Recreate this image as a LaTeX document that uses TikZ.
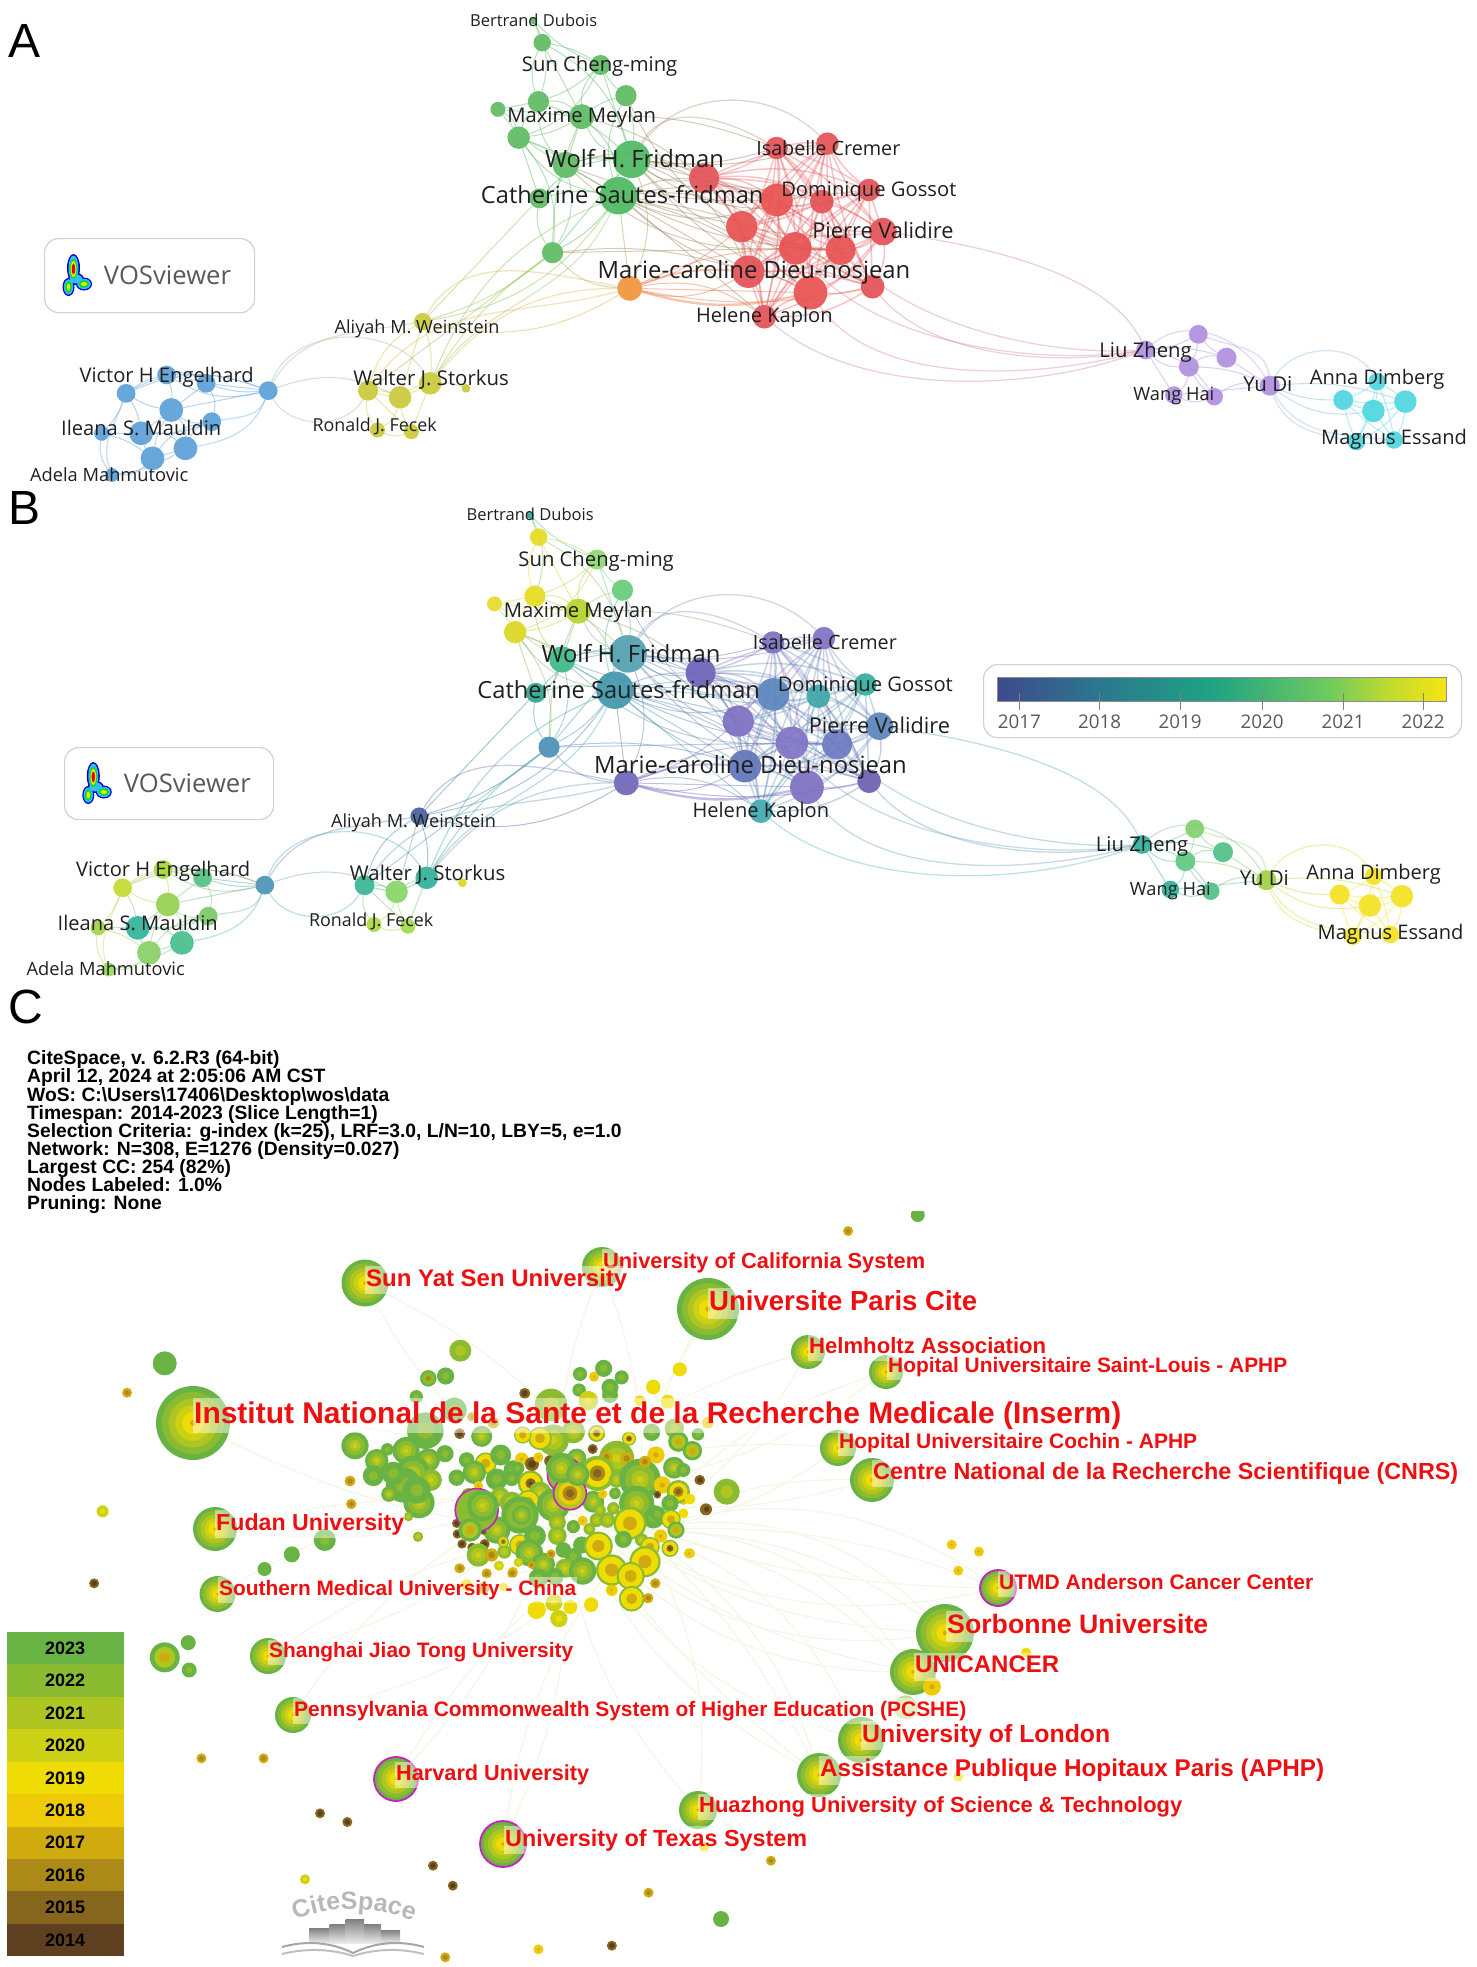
\documentclass[tikz,border=0pt]{standalone}
\usepackage{graphicx}
\usepackage{fontspec}
\setmainfont{Open Sans}
\newfontfamily\arialf{Liberation Sans}
\usetikzlibrary{decorations.text,backgrounds}
\pgfdeclarelayer{bgedges}
\pgfsetlayers{bgedges,main}
\definecolor{vb1}{HTML}{3E4A8C}\definecolor{vb2}{HTML}{2A7A8E}\definecolor{vb3}{HTML}{1FA384}
\definecolor{vb4}{HTML}{6FCB5E}\definecolor{vb5}{HTML}{C4DC2C}\definecolor{vb6}{HTML}{F5E512}
\pgfdeclarehorizontalshading{viridisbar}{100bp}{
 color(0bp)=(vb1); color(25bp)=(vb1); color(37bp)=(vb2); color(49bp)=(vb3); color(62bp)=(vb4); color(69bp)=(vb5); color(75bp)=(vb6); color(100bp)=(vb6)}
\definecolor{c23}{HTML}{69B344}\definecolor{c22}{HTML}{8ABB30}\definecolor{c21}{HTML}{AEC522}
\definecolor{c20}{HTML}{CDD115}\definecolor{c19}{HTML}{EFDC05}\definecolor{c18}{HTML}{EFCB07}
\definecolor{c17}{HTML}{CFAB10}\definecolor{c16}{HTML}{AB8A18}\definecolor{c15}{HTML}{86661C}
\definecolor{c14}{HTML}{5E3F20}
\definecolor{maj}{HTML}{C81FC0}
\definecolor{lab}{HTML}{EE1010}
\definecolor{palee}{HTML}{F4F6E6}

% name / zoom x / zoom y / radius / colour in A / colour in B
\newcommand{\netdata}{
G0/567/62/3/5DBB63/2DA58E, G1/576/128/7/5DBB63/E8DA20, G2/638/195/8/5DBB63/8FD870, G3/665/287/8.5/5DBB63/66CC77,
G4/572/305/8.5/5DBB63/E8DA20, G5/529/328/6/5DBB63/E6DA2A, G6/618/350/10/5DBB63/B5D32A, G7/551/413/9/5DBB63/DBD622,
G8/671/478/15/4DB860/4F9FB0, G9/601/495/10.5/5DBB63/3DB98A, G10/657/587/15/4DB860/3F97AA, G11/573/595/8/5DBB63/2DA58E,
G12/587/758/8.5/5DBB63/4A8FB5,
R1/825/444/9/E25055/7B6FC0, R2/879/431/9/E25055/8070C5, R3/748/535/12/E25055/6B62B5, R4/923/570/9/E25055/2FAE9F,
R5/825/600/13/E85050/5A84BD, R6/873/605/9.5/E25055/3EA5A8, R7/788/680/12.5/E85050/7D6FC0, R8/938/695/11/E25055/5A82BA,
R9/845/745/13/E85050/8074C5, R10/893/750/12/E85050/6A78C0, R11/795/815/13/E25055/5F74B8, R12/861/878/13.5/E85050/7C6EC0,
R13/927/860/9.5/E25055/6A60B0, R14/812/950/9.5/E25055/3FA8AE, O1/669/865/10/F0943A/6F66B8,
Y1/449/965/7/C9C93A/46609F, Y2/457/1150/9/C9C93A/2FB095, Y3/391/1172/8/C9C93A/38B595, Y4/425/1192/9/C9C93A/88D468,
Y5/495/1165/3.5/C9C93A/DCD820, Y6/401/1290/6/C9C93A/A8D83E, Y7/437/1295/6/C9C93A/A0D84A,
B0/285/1172/7.5/5B9FD8/4B93B5, B1/177/1125/7.5/5B9FD8/A6D63C, B2/219/1150/7.5/5B9FD8/55C07F, B3/134/1180/7.5/5B9FD8/C4DA30,
B4/182/1230/9.5/5B9FD8/96D050, B5/225/1265/7.5/5B9FD8/79C96A, B6/150/1300/9.5/5B9FD8/2FB39A, B7/108/1300/6/5B9FD8/A4D344,
B8/197/1345/9.5/5B9FD8/45BF8C, B9/162/1375/9.5/5B9FD8/88CF64, B10/119/1425/5.5/5B9FD8/96D860,
P1/1217/1050/7.5/B08EE0/2FB09C, P2/1273/1003/7.5/B08EE0/80D070, P3/1303/1073/8/B08EE0/50C088, P4/1263/1100/8/B08EE0/60C880,
P5/1247/1185/7/B08EE0/30B096, P6/1290/1190/7/B08EE0/50C088, P7/1349/1157/8/B08EE0/A0CF40,
C1/1463/1145/7/4DD5E0/F3E11F, C2/1427/1200/8/4DD5E0/F3E11F, C3/1493/1205/9/4DD5E0/F3E11F, C4/1459/1233/9/4DD5E0/F3E11F,
C5/1441/1325/7/4DD5E0/F3E11F, C6/1481/1320/7/4DD5E0/F3E11F}

\newcommand{\labdata}{
567/60/135/Bertrand Dubois, 637/193/165/Sun Cheng-ming, 618/347/158/Maxime Meylan, 674/478/190/Wolf H. Fridman,
661/587/300/Catherine Sautes-fridman, 880/445/153/Isabelle Cremer, 923/570/186/Dominique Gossot, 938/693/150/Pierre Validire,
801/812/332/Marie-caroline Dieu-nosjean, 812/947/145/Helene Kaplon, 443/980/175/Aliyah M. Weinstein, 458/1135/165/Walter J. Storkus,
398/1275/132/Ronald J. Fecek, 177/1125/185/Victor H Engelhard, 150/1285/170/Ileana S. Mauldin, 116/1423/168/Adela Mahmutovic,
1217/1050/98/Liu Zheng, 1247/1183/86/Wang Hai, 1347/1152/52/Yu Di, 1463/1133/143/Anna Dimberg, 1481/1312/155/Magnus Essand}

\newcommand{\netedges}{
G0/G1,G0/G4,G0/G2,G1/G2,G1/G4,G1/G6,G1/G8,G2/G3,G2/G4,G2/G6,G2/G8,G2/G7,G3/G6,G3/G8,G3/G10,G4/G5,G4/G6,G4/G7,G4/G8,G4/G9,
G5/G6,G5/G7,G5/G9,G6/G7,G6/G8,G6/G9,G6/G10,G7/G8,G7/G9,G7/G10,G7/G11,G7/G12,G8/G9,G8/G10,G8/G11,G9/G10,G9/G11,G10/G11,G10/G12,G11/G12,G8/G12,G9/G12,G6/G12,
G10/R3,G10/R5,G10/R7,G10/R9,G10/R11,G10/R12,G8/R3,G8/R5,G8/R7,G8/R1,G6/R1,G3/R9,G10/R14,G9/R3,G8/R2,G12/R11,G12/O1,G10/O1,G8/O1,G10/R10,G10/R6,G8/R6,G12/R9,G8/R9,G9/R5,G6/R3,G9/R9,G9/R11,G8/R11,G8/R12,G10/R13,G8/R10,
G11/Y1,G10/Y1,G12/Y2,G12/Y1,G10/Y2,G12/Y3,O1/Y1,
O1/R7,O1/R9,O1/R11,O1/R12,O1/R14,O1/R13,
Y1/Y2,Y1/Y3,Y1/Y4,Y2/Y3,Y2/Y4,Y3/Y4,Y3/Y6,Y3/Y7,Y4/Y6,Y4/Y7,Y2/Y5,Y6/Y7,Y2/Y7,B0/Y4,
B0/B1,B0/B2,B0/B3,B0/B4,B1/B2,B1/B3,B1/B4,B2/B3,B2/B4,B2/B5,B3/B4,B3/B6,B4/B5,B4/B6,B4/B8,B4/B9,B5/B6,B5/B8,B6/B7,B6/B8,B6/B9,B7/B9,B7/B10,B8/B9,B9/B10,B10/B8,B3/B7,B5/B9,B0/B2,B0/B1,
P1/P2,P1/P3,P1/P4,P1/P5,P1/P6,P2/P3,P2/P4,P3/P4,P3/P7,P4/P5,P4/P6,P4/P7,P5/P6,P5/P7,P6/P7,
P7/C2,P7/C3,P7/C4}

\newcommand{\longedges}{
R8/P1/-8/115/.75, R13/P1/-50/190/.8, R12/P1/-55/195/.8, R14/P1/-40/200/.8, R10/P1/-45/183/.8, R9/P1/-50/188/.8,
G8/R1/60/150/1, G8/R2/55/135/1, Y1/O1/60/170/1, Y2/O1/50/180/1, Y3/O1/55/195/1, Y2/G10/55/245/1,
B0/Y2/70/120/1, B0/Y3/-60/-120/1, B0/Y1/60/190/1, P7/C5/-70/170/1, P7/C1/60/120/1, P7/C6/-60/175/1,
B3/B10/-110/110/1, B0/B5/-110/10/1, B0/B8/-110/10/1, P2/P7/-20/95/1, P1/P7/40/120/1}

\newcommand{\buildedges}[1]{%
 \begin{pgfonlayer}{bgedges}
 \foreach \ea/\eb [count=\i] in \netedges {%
  \pgfmathtruncatemacro\eg{mod(\i*7,5)*11-22}%
  \colorlet{ec}{#1\ea!50!#1\eb}%
  \draw[netedge,draw=ec,bend left=\eg] (#1\ea) to (#1\eb);}
 \foreach \ea [count=\i] in {R1,R2,R3,R4,R5,R6,R7,R8,R9,R10,R11,R12,R13,R14} {%
  \foreach \eb [count=\j] in {R1,R2,R3,R4,R5,R6,R7,R8,R9,R10,R11,R12,R13,R14} {%
   \ifnum\i<\j
    \pgfmathtruncatemacro\eg{mod(\i*3+\j*5,5)*8-16}%
    \colorlet{ec}{#1\ea!50!#1\eb}%
    \draw[netedge,line width=1.5pt,opacity=.34,draw=ec,bend left=\eg] (#1\ea) to (#1\eb);
   \fi}}
 \foreach \ea [count=\i] in {C1,C2,C3,C4,C5,C6} {%
  \foreach \eb [count=\j] in {C1,C2,C3,C4,C5,C6} {%
   \ifnum\i<\j
    \pgfmathtruncatemacro\eg{mod(\i*3+\j*5,5)*6-12}%
    \draw[netedge,draw=#1\ea,bend left=\eg] (#1\ea) to (#1\eb);
   \fi}}
 \foreach \ea/\eb/\ou/\inn/\lo in \longedges {%
  \colorlet{ec}{#1\ea!50!#1\eb}%
  \draw[netedge,draw=ec,line width=1.3pt,opacity=.33] (#1\ea) to[out=\ou,in=\inn,looseness=\lo] (#1\eb);
  }
 \colorlet{ec}{#1O1!60!#1R12}%
 \draw[netedge,draw=ec,line width=2.4pt,bend right=14] (#1O1) to (#1R12);
 \draw[netedge,draw=ec,line width=2pt,bend left=12] (#1O1) to (#1R11);
 \end{pgfonlayer}}

\newcommand{\netw}[3]{%
 \begin{scope}[shift={(#2,#3)},x=.9413pt,y=-.33333pt]
 \foreach \nm/\zx/\zy/\rad/\ca/\cb in \netdata {%
  \node[netnode,minimum size={2.5*\rad pt},fill=#1\nm] (#1\nm) at (\zx,\zy) {};}
 \foreach \zx/\zy/\w/\txt [count=\i] in \labdata {%
  \pgfmathsetmacro\wdp{\w*.9413}%
  \node[netlab] (#1L\i) at (\zx,\zy) {\resizebox{\wdp pt}{!}{\vphantom{Ag}\txt}};}
 \end{scope}
 \buildedges{#1}}

% VOSviewer badge
\newcommand{\vosbadge}[7]{% name, box x0,y0,x1,y1, text x, y
 \node[vosbox,minimum width={(#4-#2)*1pt},minimum height={(#5-#3)*1pt},anchor=north west] (#1box) at (#2,#3) {};
 \node[text=black!65] (#1txt) at (#6,#7) {\resizebox{127pt}{!}{VOSviewer}};
 \begin{scope}[shift={(#6-92.5,#7)}]
  \fill[blue!80!black] (-1.5,-7) ellipse (6.5 and 14);
  \fill[blue!80!black] (-6.5,12) ellipse (6 and 9);
  \fill[blue!80!black] (9,9) ellipse (8 and 6.5);
  \fill[blue!80!black] (1,4) ellipse (8 and 6);
  \fill[cyan!80!white] (-1.5,-7) ellipse (5 and 12.5);
  \fill[cyan!80!white] (-6.5,12) ellipse (4.7 and 7.6);
  \fill[cyan!80!white] (9,9) ellipse (6.8 and 5.2);
  \fill[cyan!80!white] (1,4) ellipse (6.5 and 4.5);
  \fill[green!75!teal] (-1.5,-6) ellipse (3.8 and 10);
  \fill[green!75!teal] (-6.5,12) ellipse (3.2 and 5.8);
  \fill[green!75!teal] (9,9) ellipse (5 and 3.8);
  \fill[yellow!90!green] (-1.5,-6) ellipse (2.8 and 8);
  \fill[yellow!90!green] (-6.5,12) ellipse (1.8 and 3.5);
  \fill[yellow!90!green] (9,9) ellipse (3.2 and 2);
  \fill[red!90!black] (-1.5,-6) ellipse (1.7 and 5.5);
 \end{scope}}

% concentric rings of the CiteSpace nodes
\newcommand{\rr}[2]{\fill[#1] (\qx,\qy) circle ({#2*\qr*\qk pt});}
\newcommand{\ringa}{\rr{c23}{1}\rr{c22}{.45}}
\newcommand{\ringb}{\rr{c23}{1}\rr{c22}{.72}\rr{c21}{.42}\rr{c20}{.18}}
\newcommand{\ringc}{\rr{c22}{1}\rr{c21}{.62}\rr{c20}{.25}}
\newcommand{\ringd}{\rr{c22}{1}\rr{c19}{.82}\rr{c15}{.4}\rr{c14}{.15}}
\newcommand{\ringu}{\rr{c22}{1}\rr{c19}{.85}\rr{c17}{.42}}
\newcommand{\ringe}{\rr{c17}{1}\rr{c16}{.5}}
\newcommand{\ringf}{\rr{c15}{1}\rr{c14}{.55}}
\newcommand{\ringg}{\rr{c22}{1}\rr{c19}{.78}\rr{c16}{.45}\rr{c15}{.25}}
\newcommand{\ringh}{\rr{c22}{1}\rr{c21}{.5}}
\newcommand{\rings}{\rr{c19}{1}}
\newcommand{\ringt}{\rr{c18}{1}\rr{c17}{.3}}
\newcommand{\ringz}{\rr{c20}{1}\rr{c19}{.4}}
\newcommand{\ringk}{\rr{c23}{1}}
\newcommand{\ringl}{\rr{c22!50!white}{1}\rr{c21!50!white}{.5}}
\newcommand{\ringv}{\rr{c23}{1}\rr{c21}{.7}\rr{c17}{.35}}
\newcommand{\ringw}{\rr{c23}{1}\rr{c22}{.75}\rr{c16}{.3}}
\newcommand{\ringm}{\rr{c21}{1}\rr{c18}{.7}\rr{c16}{.45}\rr{c15}{.25}\draw[maj,line width=1.6pt] (\qx,\qy) circle ({\qr*\qk pt});}
\newcommand{\ringn}{\rr{c22}{1}\rr{c16}{.4}\draw[maj,line width=1.6pt] (\qx,\qy) circle ({\qr*\qk pt});}
\newcommand{\ringq}{\rr{c23}{1}\rr{c22}{.84}\rr{c21}{.66}\rr{c20}{.48}\rr{c19}{.3}\rr{c17}{.08}}
\newcommand{\ringp}{\ringq\draw[maj,line width=1.8pt] (\qx,\qy) circle ({\qr*\qk pt});}
\newcommand{\clab}[5]{\node[clabel] (#1) at (#2,#3) {\resizebox{#4pt}{!}{\arialf\bfseries\vphantom{Ag}#5}};}

\tikzset{
 netnode/.style={circle,inner sep=0pt,outer sep=0pt,draw=none,fill opacity=.92},
 netlab/.style={inner sep=0pt,text=black!88,yshift=-2pt},
 netedge/.style={line width=1pt,opacity=.44},
 vosbox/.style={rectangle,rounded corners=14pt,draw=black!18,line width=1.2pt,fill=none},
 clabel/.style={anchor=west,inner xsep=1pt,inner ysep=3pt,text=lab,yshift=-2.5pt,fill=white,fill opacity=.45,text opacity=1},
 panel/.style={anchor=base,inner sep=0pt,font=\arialf\fontsize{48}{48}\selectfont},
 legendcell/.style={rectangle,inner sep=0pt,minimum width=116.7pt,minimum height=32.5pt,anchor=north west,text=black,font=\arialf\bfseries\fontsize{18}{18}\selectfont},
 paleedge/.style={draw=palee,line width=1.2pt}
}

\begin{document}
\begin{tikzpicture}[x=1pt,y=-1pt]
\globalcolorstrue
\useasboundingbox (0,0) rectangle (1476,1967);
\foreach \nm/\zx/\zy/\rad/\ca/\cb in \netdata {%
 \edef\tmp{\noexpand\definecolor{a\nm}{HTML}{\ca}\noexpand\definecolor{b\nm}{HTML}{\cb}}\tmp}

\node[panel] (pA) at (25,58) {A};
\node[panel] (pB) at (25,524) {B};
\node[panel] (pC) at (26,1023) {C};

\netw{a}{0}{0}
\netw{b}{-3.5}{494.5}

\vosbadge{a}{44}{238}{254}{312}{167.5}{275}
\vosbadge{b}{64}{747}{273}{819}{187.3}{783}

% colour bar of panel B
\node[vosbox,minimum width=478pt,minimum height=73pt,anchor=north west] (cbox) at (983,664) {};
\node[rectangle,inner sep=0pt,minimum width=449pt,minimum height=24pt,anchor=north west,shading=viridisbar,draw=black!45,line width=.5pt] (cbar) at (997,677) {};
\foreach \tx/\yr in {1019.4/2017,1099.5/2018,1180/2019,1262/2020,1343/2021,1423/2022} {%
 \coordinate (t\yr) at (\tx,693);
 \draw[black!50,line width=.6pt] (t\yr) -- ++(0,17);
 \node[text=black!65,inner sep=0pt] (n\yr) at (\tx,722) {\resizebox{43pt}{!}{\yr}};}

% header text of panel C
\node[anchor=north west,inner sep=0pt,align=left,text=black,font=\arialf\bfseries\fontsize{19.3}{18.15}\selectfont] (cinfo) at (27,1050.5) {%
CiteSpace, v. 6.2.R3 (64-bit)\\
April 12, 2024 at 2:05:06 AM CST\\
WoS: C:\textbackslash Users\textbackslash 17406\textbackslash Desktop\textbackslash wos\textbackslash data\\
Timespan: 2014-2023 (Slice Length=1)\\
Selection Criteria: g-index (k=25), LRF=3.0, L/N=10, LBY=5, e=1.0\\
Network: N=308, E=1276 (Density=0.027)\\
Largest CC: 254 (82\%)\\
Nodes Labeled: 1.0\%\\
Pruning: None};

% legend
\foreach \yr/\col [count=\i] in {2023/c23,2022/c22,2021/c21,2020/c20,2019/c19,2018/c18,2017/c17,2016/c16,2015/c15,2014/c14} {%
 \node[legendcell,fill=\col] (leg\yr) at (6.6,{1631.7+32.43*(\i-1)}) {\raisebox{-2.5pt}{\yr}};}

% map of panel C
\begin{scope}
\clip (0,1211) rectangle (1476,1967);
\def\qk{1}
\foreach \qn/\qx/\qy/\qr/\qt in {
 t1/193/1423/37/q, t2/365/1283/23.5/q, t3/602/1267/20/q, t4/708/1309/31/q, t5/808/1352/17/q, t6/886/1372/17/q,
 t7/838/1448/18/q, t8/872/1480/22/q, t9/215/1529/22/q, t10/217.5/1594/18/q, t11/268/1656/18/q, t12/293/1715/18/q,
 t13/396/1779/22/p, t14/503/1844/23/p, t15/698/1810/19/q, t16/819/1775/22/q, t17/861/1740/23/q, t18/913/1672/23/q,
 t19/945/1633/29/q, t20/998/1588/18/p} {%
 \coordinate (\qn) at (\qx,\qy);
 \csname ring\qt\endcsname}
\begin{pgfonlayer}{bgedges}
\foreach \tg/\bd in {t1/-14,t2/16,t3/12,t4/-14,t5/14,t6/-16,t7/14,t8/-14,t9/14,t10/-14,t11/16,t12/-16,t13/14,t14/16,t15/-18,t16/-20,t17/-24,t18/-28,t19/-30,t20/-26,t19/-18,t18/-16,t16/-10,t20/-12} {%
 \coordinate (cc1) at (560,1490);
 \coordinate (cc2) at (640,1530);
 \draw[paleedge,bend left=\bd] (cc1) to (\tg);
 \draw[paleedge,bend right=\bd] (cc2) to (\tg);}
\end{pgfonlayer}
% scattered small nodes: coordinates as x/.9413, y*3 about y=1470
\begin{scope}[shift={(0,1470)},x=.9413pt,y=-.33333pt]
\foreach \qx/\qy/\qr/\qt in {
 175/562/15/v, 200/518/7.5/k, 201/600/7.5/a,
 109/124/6/z, 100/340/5/f, 214/865/5/e, 280/865/5/e, 340/1030/5/f, 369/1056/5/f, 460/1187/5/f, 481/1247/5/f,
 324/1228/5/z, 689/1268/5/e, 819/1172/5/e, 766/1347/8/k, 650/1427/5/f, 572/1438/5/t, 473/1462/5/e,
 1011/224/5/t, 1040/245/5/t, 1018/302/5/t, 1090/548/5/s, 990/650/9/t, 962/712/12/l, 748/1130/5/s, 1018/920/5/s,
 310/253/8/k, 281/297/7/k, 345/210/11/a, 444/200/5/z, 488/295/5/e, 517/310/5/t, 545/305/5/t,
 570/420/9/s, 593/445/8/z, 588/400/8/z, 628/405/7/s, 772/65/13/c, 733/250/5/t, 688/385/5/e,
 650/360/6/s, 696/340/5/e, 372/33/5/e, 373/102/5/e, 743/30/5/f, 750/118/6/f, 726/90/5/t,
 135/-232/5/e, 175/-320/12/k, 489/-358/11/h, 455/-275/8/w, 473/-282/8/a, 722/-302/7/s,
 694/-250/7/z, 558/-230/5/e, 901/-717/5/e, 975/-765/7/k, 641/-305/8/a, 617/-290/6/h, 631/-280/5/t,
 660/-275/6/h, 616/-240/6/a, 648/-225/8/a} {%
 \def\qk{1}\csname ring\qt\endcsname}
\end{scope}
% the dense cluster: coordinates as three times the offset from (320,1360)
\begin{scope}[shift={(320,1360)},x=.33333pt,y=-.33333pt]
\foreach \qx/\qy/\qr/\qt in {
 105/257/35/b,202/268/16/a,170/302/30/b,160/347/27/a,258/272/35/b,316/212/47/a,375/281/22/a,325/300/30/b,278/340/45/b,333/360/28/c,250/375/45/a,207/402/20/b,297/428/40/b,220/340/30/a,290/390/35/a,
 90/363/14/e,94/432/13/e,265/470/12/c,294/530/13/c,
 325/55/21/w,377/48/22/a,289/110/17/a,403/150/32/a,455/170/12/e,520/188/15/e,419/221/14/f,485/229/27/b,614/100/14/f,693/135/42/h,780/42/18/a,851/25/22/a,822/50/12/t,905/52/18/a,870/82/22/a,777/90/17/a,1080/28/17/s,1000/82/18/s,805/122/25/z,830/220/22/g,760/215/30/c,700/240/40/c,660/235/30/u,608/225/22/u,927/236/18/d,995/217/22/a,1063/205/25/h,1075/245/26/v,1134/223/16/a,1117/272/25/v,959/122/14/s,1043/125/18/s,1163/188/15/t,
 440/300/20/a,497/310/28/u,542/285/27/a,463/337/30/b,410/353/21/a,530/358/28/a,580/330/25/a,605/297/17/t,636/312/18/f,655/292/13/t,818/267/13/f,690/303/15/f,
 632/370/33/d,593/325/17/a,575/355/20/a,475/377/12/t,445/405/18/c,540/410/25/c,575/430/30/c,660/400/30/c,
 890/295/45/c,860/290/14/e,920/295/16/e,725/325/40/b,770/295/25/b,832/340/45/g,890/360/20/c,960/358/53/b,1027/375/22/t,1008/285/22/t,975/305/15/e,1062/323/28/b,1090/330/18/a,1075/395/30/g,1140/360/13/f,1160/447/13/f,1220/395/32/h,1110/417/14/s,1090/460/13/s,
 625/425/30/u,700/435/42/b,600/465/48/b,820/425/28/b,530/510/35/b,
 712/487/22/c,760/500/17/a,848/402/12/t,885/400/15/a,880/445/16/c,830/480/18/c,862/480/20/c,808/507/15/c,788/482/13/t,840/450/15/c,
 1000/470/30/a,950/430/45/b,930/490/42/u,1050/430/22/a,1013/462/20/a,1053/478/25/u,1068/510/22/v,
 410/490/12/f,412/522/12/f,426/552/12/f,456/562/12/f,494/552/13/f,490/515/8/f,
 470/450/55/n,450/510/30/v,488/437/40/b,
 475/585/30/c,515/585/17/e,553/575/18/c,600/555/28/u,550/545/15/g,645/528/28/a,628/578/35/b,712/527/24/c,730/570/20/k,785/555/22/k,760/590/22/a,670/613/30/b,735/625/25/c,788/633/35/b,835/558/37/u,910/538/22/a,965/540/17/c,1022/528/17/t,990/560/25/u,1050/565/22/d,1107/580/13/t,975/605/40/u,875/630/40/u,932/648/36/u,935/716/33/u,1006/670/13/e,985/714/13/e,875/690/13/t,814/733/18/s,751/741/18/s,652/748/22/s,702/728/22/z,717/776/22/z,537/617/13/z,595/607/12/z,421/625/12/e,500/641/13/e,577/640/13/e,635/615/10/e,693/582/12/e,655/655/25/a,705/650/22/a,551/681/11/s,440/675/15/s,490/685/15/e,
 735/345/45/n,750/400/42/m,725/325/38/b,773/343/30/b,605/465/25/b,1012/404/10/f} {%
 \def\qk{.39}\csname ring\qt\endcsname}
\end{scope}
\end{scope}

% labels of panel C
\clab{l1}{602}{1260}{322}{University of California System}
\clab{l2}{365}{1277.7}{261}{Sun Yat Sen University}
\clab{l3}{708}{1301}{268}{Universite Paris Cite}
\clab{l4}{808}{1345}{237}{Helmholtz Association}
\clab{l5}{887}{1365}{399}{Hopital Universitaire Saint-Louis - APHP}
\clab{l6}{193}{1413}{927}{Institut National de la Sante et de la Recherche Medicale (Inserm)}
\clab{l7}{838}{1441}{358}{Hopital Universitaire Cochin - APHP}
\clab{l8}{872}{1471}{585}{Centre National de la Recherche Scientifique (CNRS)}
\clab{l9}{215}{1521.7}{188}{Fudan University}
\clab{l10}{218}{1587.7}{357}{Southern Medical University - China}
\clab{l11}{998}{1581.7}{314}{UTMD Anderson Cancer Center}
\clab{l12}{946}{1624.3}{261}{Sorbonne Universite}
\clab{l13}{268}{1650}{304}{Shanghai Jiao Tong University}
\clab{l14}{914}{1664.3}{144}{UNICANCER}
\clab{l15}{293}{1708.7}{672}{Pennsylvania Commonwealth System of Higher Education (PCSHE)}
\clab{l16}{861}{1733.3}{248}{University of London}
\clab{l17}{395}{1772.7}{193}{Harvard University}
\clab{l18}{819}{1767.7}{504}{Assistance Publique Hopitaux Paris (APHP)}
\clab{l19}{698}{1804.3}{483}{Huazhong University of Science \& Technology}
\clab{l20}{504}{1837.7}{302}{University of Texas System}

% CiteSpace mark
\path[decorate,decoration={text along path,text align=center,text color=black!28,
 text={|\arialf\bfseries\fontsize{25}{25}\selectfont|CiteSpace}}]
 (292,1921) .. controls (330,1905) and (376,1905) .. (416,1922);
\foreach \xa/\xb/\yt in {309/329.5/1928,329.5/345.5/1924,345.5/364/1919,364/381/1924,381/400/1930} {%
 \fill[top color=black!50,bottom color=black!8] (\xa,\yt) rectangle (\xb,1943);}
\draw[black!35,line width=2pt] (282,1947) .. controls (310,1939) and (335,1944) .. (353,1953);
\draw[black!35,line width=2pt] (424,1947) .. controls (396,1939) and (371,1944) .. (353,1953);
\draw[black!25,line width=2pt] (282,1954) .. controls (310,1947) and (335,1950) .. (353,1956);
\draw[black!25,line width=2pt] (424,1954) .. controls (396,1947) and (371,1950) .. (353,1956);
\end{tikzpicture}
\end{document}
